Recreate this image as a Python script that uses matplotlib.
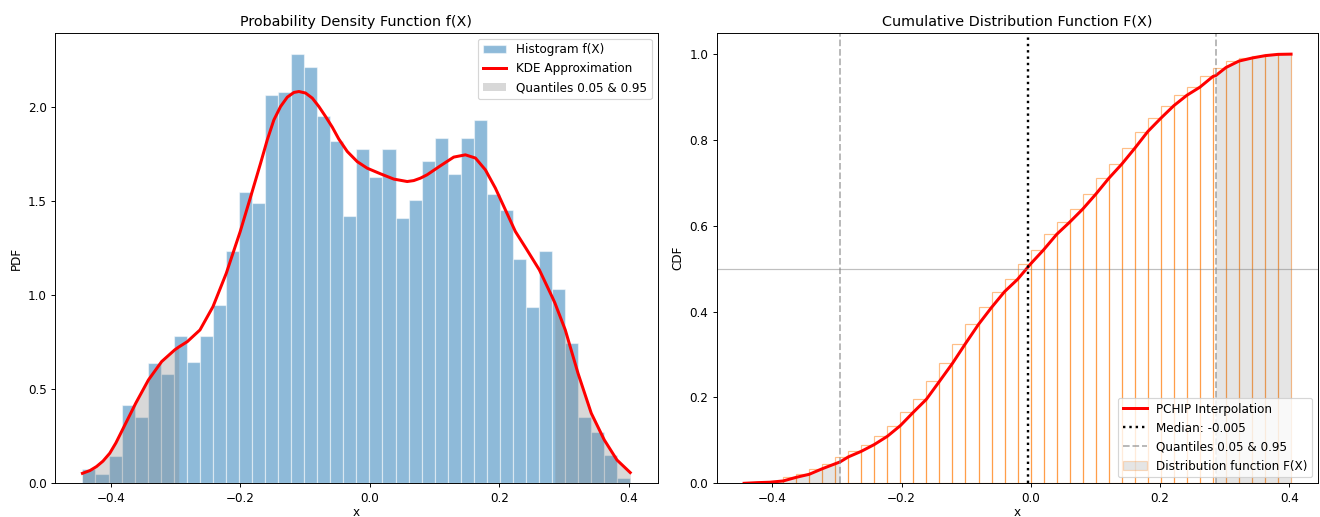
import numpy as np
import matplotlib.pyplot as plt
from matplotlib.patches import Patch
from matplotlib.lines import Line2D

# histogram (density, 42 equal bins)
x_min, x_max = -0.4437, 0.4026
pdf_heights = [0.075, 0.050, 0.147, 0.417, 0.351, 0.639, 0.580, 0.786, 0.648, 0.786,
               0.949, 1.237, 1.549, 1.494, 2.066, 2.080, 2.284, 2.216, 1.956, 1.823,
               1.425, 1.780, 1.631, 1.780, 1.411, 1.509, 1.713, 1.835, 1.645, 1.835,
               1.931, 1.537, 1.452, 1.196, 0.937, 1.237, 1.033, 0.745, 0.351, 0.272,
               0.151, 0.027]

# KDE curve points
kde_x = [-0.4437, -0.432, -0.422, -0.412, -0.4015, -0.392, -0.382, -0.3614, -0.3418,
         -0.3213, -0.3012, -0.295, -0.2817, -0.2622, -0.2421, -0.2215, -0.2, -0.1813,
         -0.1685, -0.1582, -0.148, -0.1377, -0.1273, -0.1171, -0.1094, -0.0991,
         -0.0887, -0.0785, -0.0682, -0.0579, -0.0477, -0.0347, -0.0193, -0.0039,
         0.0167, 0.0372, 0.0579, 0.068, 0.0784, 0.0887, 0.1093, 0.1298, 0.1478,
         0.1633, 0.1787, 0.1941, 0.2096, 0.225, 0.2415, 0.262, 0.2815, 0.286,
         0.3021, 0.3217, 0.3422, 0.3623, 0.3819, 0.4024]
kde_y = [0.053, 0.068, 0.089, 0.118, 0.160, 0.215, 0.284, 0.426, 0.550,
         0.648, 0.710, 0.725, 0.754, 0.816, 0.940, 1.118, 1.340, 1.555,
         1.704, 1.828, 1.934, 2.005, 2.055, 2.080, 2.085, 2.077,
         2.050, 2.005, 1.952, 1.896, 1.832, 1.766, 1.712, 1.677,
         1.647, 1.619, 1.606, 1.611, 1.624, 1.642, 1.690, 1.736, 1.748,
         1.731, 1.668, 1.571, 1.455, 1.340, 1.250, 1.136, 0.994, 0.960,
         0.816, 0.586, 0.373, 0.231, 0.124, 0.057]

median = -0.005
q05, q95 = -0.295, 0.286


def main():
    edges = np.linspace(x_min, x_max, len(pdf_heights) + 1)
    width = edges[1] - edges[0]
    cdf = np.cumsum(pdf_heights) * width
    cdf = cdf / cdf[-1]

    kx = np.array(kde_x)
    ky = np.array(kde_y)

    fig = plt.figure(figsize=(1320 / 86, 517 / 86), dpi=86)
    ax1 = fig.add_axes([0.0417, 0.0652, 0.4566, 0.8716])
    ax2 = fig.add_axes([0.5430, 0.0652, 0.4558, 0.8716])

    # left: PDF
    ax1.bar(edges[:-1], pdf_heights, width=width, align='edge', color='tab:blue',
            alpha=0.5, edgecolor='white', linewidth=1)
    ax1.plot(kx, ky, color='red', lw=2.5)
    lo = kx <= q05
    hi = kx >= q95
    ax1.fill_between(kx[lo], ky[lo], color='gray', alpha=0.3, lw=0)
    ax1.fill_between(kx[hi], ky[hi], color='gray', alpha=0.3, lw=0)
    ax1.set_title('Probability Density Function f(X)')
    ax1.set_xlabel('x', labelpad=1)
    ax1.set_ylabel('PDF')
    ax1.set_ylim(bottom=0)
    h1 = [Patch(facecolor='tab:blue', alpha=0.5, edgecolor='white'),
          Line2D([], [], color='red', lw=2.5),
          Patch(facecolor='gray', alpha=0.3)]
    ax1.legend(h1, ['Histogram f(X)', 'KDE Approximation', 'Quantiles 0.05 & 0.95'],
               loc='upper right')

    # right: CDF
    cx = np.concatenate([edges, [q05, q95]])
    cy = np.concatenate([[0.0], cdf, [0.05, 0.95]])
    order = np.argsort(cx)
    cx, cy = cx[order], cy[order]

    ax2.bar(edges[:-1], cdf, width=width, align='edge', facecolor='none',
            edgecolor=(1.0, 0.498, 0.055, 0.5), linewidth=1)
    lo = cx <= q05
    hi = cx >= q95
    ax2.fill_between(cx[lo], cy[lo], color='gray', alpha=0.2, lw=0)
    ax2.fill_between(cx[hi], cy[hi], color='gray', alpha=0.2, lw=0)
    ax2.plot(cx, cy, color='red', lw=2.5)
    ax2.axvline(median, color='black', ls=':', lw=2)
    ax2.axvline(q05, color='gray', ls='--', lw=1.5, alpha=0.6)
    ax2.axvline(q95, color='gray', ls='--', lw=1.5, alpha=0.6)
    ax2.axhline(0.5, color='gray', lw=1, alpha=0.5)
    ax2.set_title('Cumulative Distribution Function F(X)')
    ax2.set_xlabel('x', labelpad=1)
    ax2.set_ylabel('CDF')
    ax2.set_ylim(0, 1.05)
    h2 = [Line2D([], [], color='red', lw=2.5),
          Line2D([], [], color='black', ls=':', lw=2),
          Line2D([], [], color='gray', ls='--', lw=1.5, alpha=0.6),
          Patch(facecolor=(0.5, 0.5, 0.5, 0.2), edgecolor=(1.0, 0.498, 0.055, 0.25))]
    ax2.legend(h2, ['PCHIP Interpolation', 'Median: %.3f' % median,
                    'Quantiles 0.05 & 0.95', 'Distribution function F(X)'],
               loc='lower right')

    fig.savefig('out.png', dpi=86)


if __name__ == "__main__":
    main()
